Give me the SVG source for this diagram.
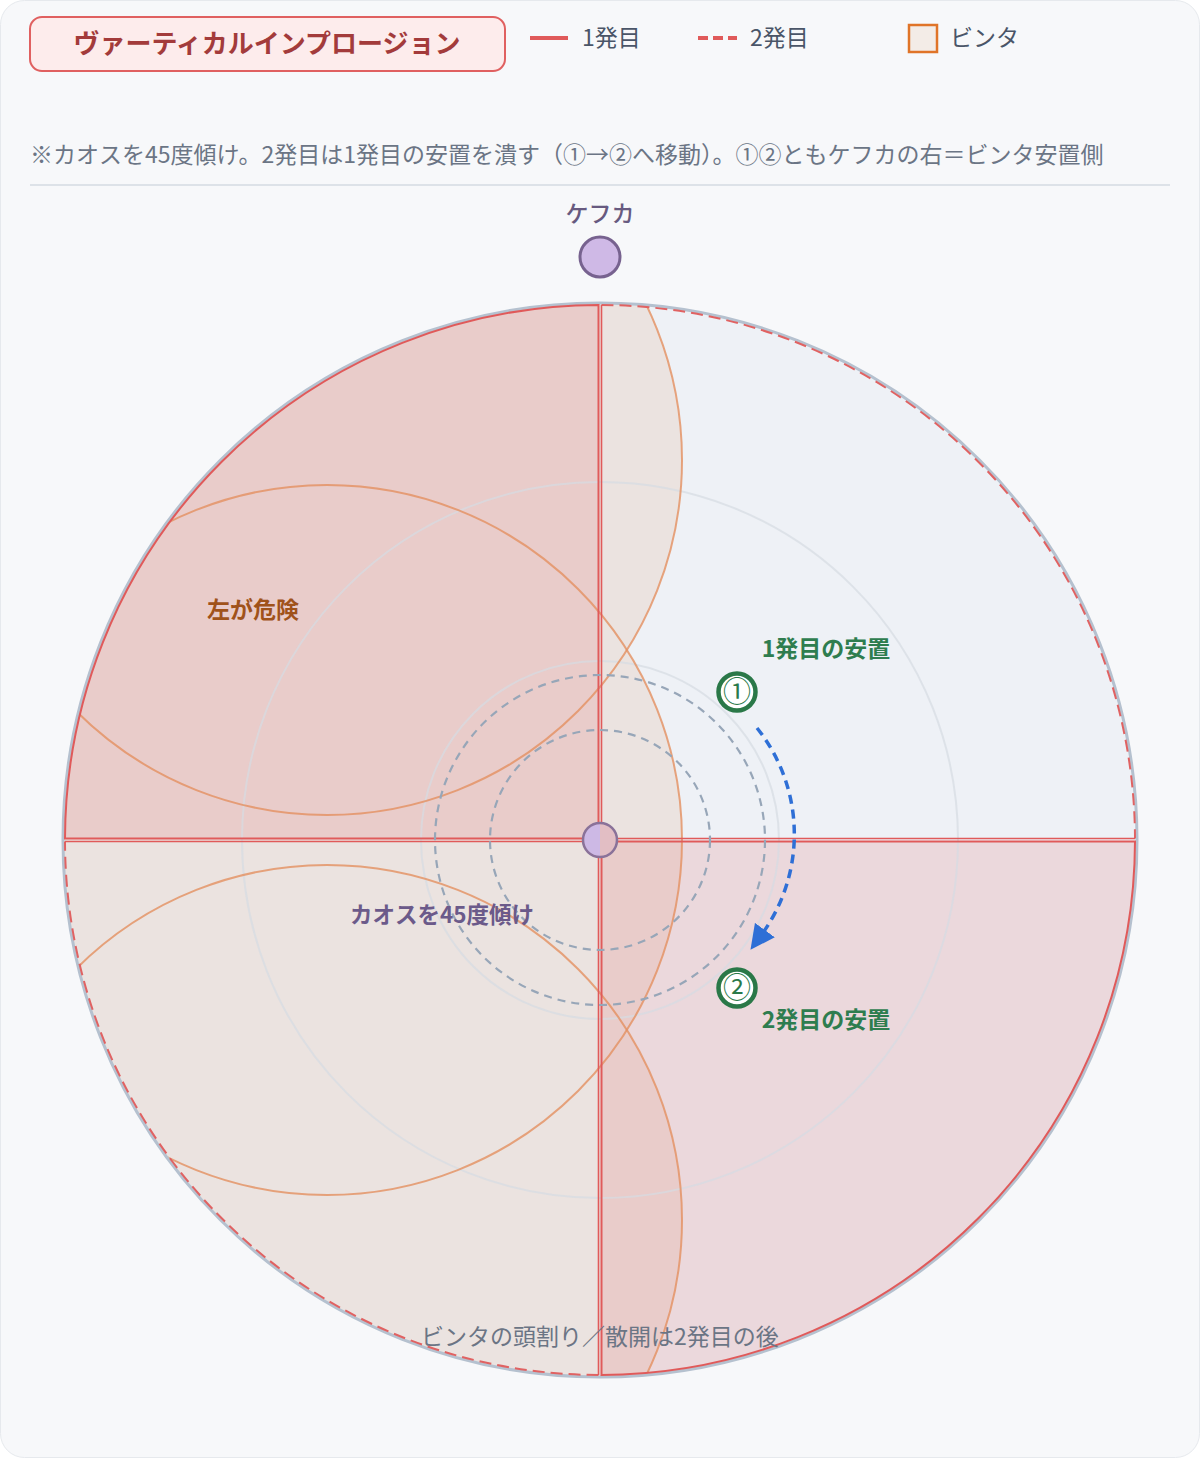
<svg xmlns="http://www.w3.org/2000/svg" width="1200" height="1458" viewBox="0 0 1200 1458">
<defs>
<style>
text{font-family:"Noto Sans CJK JP","Noto Sans",sans-serif}
.legend{font-size:23px;fill:#4A5568}
.sub{font-size:23px;fill:#6B7585}
.safe{font-size:23px;font-weight:bold;fill:#2E7D4F;text-anchor:middle}
.num{font-size:28px;fill:#2A7A4A;text-anchor:middle}
.mark{fill:#FFFFFF;stroke:#2A7848;stroke-width:4.5}
.pfill{fill:#EBE3E0}
.pline{fill:none;stroke:#E39060;stroke-opacity:0.8;stroke-width:2}
.q1{fill:#E05555;fill-opacity:0.16;stroke:none}
.q1s{fill:none;stroke:#E05A5A;stroke-width:2}
.q2s{fill:none;stroke:#E06262;stroke-width:2;stroke-dasharray:12 6}
.edge{stroke:#E05A5A;stroke-width:1.6}
.guide{fill:none;stroke:#D6DBE3;stroke-width:2;opacity:0.7}
.dguide{fill:none;stroke:#97A6B8;stroke-width:2.2;stroke-dasharray:8 6}
</style>
<clipPath id="arenaClip"><circle cx="600" cy="840" r="536"/></clipPath>
<linearGradient id="chaosFill" x1="0" y1="0" x2="1" y2="0">
<stop offset="0" stop-color="#CDB9E5"/><stop offset="0.5" stop-color="#CDB9E5"/>
<stop offset="0.5" stop-color="#E2BEC4"/><stop offset="1" stop-color="#E2BEC4"/>
</linearGradient>
<marker id="arrowHead" viewBox="0 0 10 10" refX="2" refY="5" markerWidth="7" markerHeight="7" orient="auto" markerUnits="strokeWidth">
<path d="M0,0 L10,5 L0,10 Z" fill="#2E6FD6"/>
</marker>
</defs>

<rect x="0" y="0" width="1200" height="1458" fill="#FFFFFF"/>
<rect x="0.5" y="0.5" width="1199" height="1457" rx="24" fill="#F7F8FA" stroke="#E6E9ED"/>

<g id="title">
<rect x="30" y="17" width="475" height="54" rx="12" fill="#FDECEC" stroke="#E06060" stroke-width="2"/>
<text x="267" y="53" font-size="26" font-weight="bold" fill="#A33B3B" text-anchor="middle">ヴァーティカルインプロージョン</text>
</g>

<g id="legend">
<line x1="530" y1="38" x2="568" y2="38" stroke="#E05A5A" stroke-width="4"/>
<text class="legend" x="582" y="46">1発目</text>
<line x1="698" y1="38" x2="737" y2="38" stroke="#E05A5A" stroke-width="4" stroke-dasharray="10 5"/>
<text class="legend" x="750" y="46">2発目</text>
<rect x="909" y="25" width="28" height="27" fill="#F3ECE7" stroke="#E07428" stroke-width="2.5"/>
<text class="legend" x="950" y="46">ビンタ</text>
</g>

<g id="note">
<text class="sub" x="30" y="163">※カオスを45度傾け。2発目は1発目の安置を潰す（①→②へ移動）。①②ともケフカの右＝ビンタ安置側</text>
<line x1="30" y1="185" x2="1170" y2="185" stroke="#DDE2E8" stroke-width="2"/>
</g>

<g id="arena">
<circle cx="600" cy="840" r="537" fill="#EEF1F6"/>
<g clip-path="url(#arenaClip)">
<circle class="pfill" cx="327" cy="460" r="355"/>
<circle class="pfill" cx="327" cy="840" r="355"/>
<circle class="pfill" cx="327" cy="1220" r="355"/>
</g>
</g>

<g id="shot1-fill">
<path class="q1" d="M598.5,838.5 L598.5,303 A537,537 0 0 0 63,838.5 Z"/>
<path class="q1" d="M601.5,841.5 L1137,841.5 A537,537 0 0 1 601.5,1377 Z"/>
</g>

<g id="guides">
<circle class="guide" cx="600" cy="840" r="358"/>
<circle class="guide" cx="600" cy="840" r="179"/>
</g>

<g id="pinto" clip-path="url(#arenaClip)">
<circle class="pline" cx="327" cy="460" r="355"/>
<circle class="pline" cx="327" cy="840" r="355"/>
<circle class="pline" cx="327" cy="1220" r="355"/>
</g>

<circle cx="600" cy="840" r="537" fill="none" stroke="#B5C1CF" stroke-width="3"/>

<g id="shot1-outline">
<path class="q1s" d="M598.5,838.5 L598.5,305 A535,535 0 0 0 65,838.5 Z"/>
<path class="q1s" d="M601.5,841.5 L1135,841.5 A535,535 0 0 1 601.5,1375 Z"/>
</g>
<g id="shot2-outline">
<path class="q2s" d="M601.5,305 A535,535 0 0 1 1135,838.5"/>
<path class="q2s" d="M598.5,1375 A535,535 0 0 1 65,841.5"/>
<line class="edge" x1="601.5" y1="305" x2="601.5" y2="838.5"/>
<line class="edge" x1="601.5" y1="838.5" x2="1135" y2="838.5"/>
<line class="edge" x1="598.5" y1="841.5" x2="598.5" y2="1375"/>
<line class="edge" x1="65" y1="841.5" x2="598.5" y2="841.5"/>
</g>

<g id="rings">
<circle class="dguide" cx="600" cy="840" r="165"/>
<circle class="dguide" cx="600" cy="840" r="110"/>
</g>

<g id="chaos">
<circle cx="600" cy="840" r="17" fill="url(#chaosFill)" stroke="#8A7299" stroke-width="2.5"/>
</g>

<g id="kefka">
<text x="600" y="222" font-size="23" font-weight="500" fill="#675A80" text-anchor="middle">ケフカ</text>
<circle cx="600" cy="257" r="20" fill="#CFB9E6" stroke="#77628F" stroke-width="3"/>
</g>

<g id="connectors">
<path d="M757,728 A170,170 0 0 1 762,934" fill="none" stroke="#2E6FD6" stroke-width="3.5" stroke-dasharray="9 6" marker-end="url(#arrowHead)"/>
</g>

<g id="spot1">
<circle class="mark" cx="737" cy="692" r="18.5"/>
<text class="num" x="737" y="702">①</text>
<text class="safe" x="826" y="657">1発目の安置</text>
</g>

<g id="spot2">
<circle class="mark" cx="737" cy="988" r="18.5"/>
<text class="num" x="737" y="998">②</text>
<text class="safe" x="826" y="1028">2発目の安置</text>
</g>

<g id="danger">
<text x="253" y="618" font-size="23" font-weight="bold" fill="#A0521A" text-anchor="middle">左が危険</text>
</g>

<g id="tilt">
<text x="442" y="923" font-size="22.5" font-weight="bold" fill="#6B5A8A" text-anchor="middle">カオスを45度傾け</text>
</g>

<g id="footnote">
<text class="sub" x="600" y="1345" text-anchor="middle">ビンタの頭割り／散開は2発目の後</text>
</g>
</svg>
